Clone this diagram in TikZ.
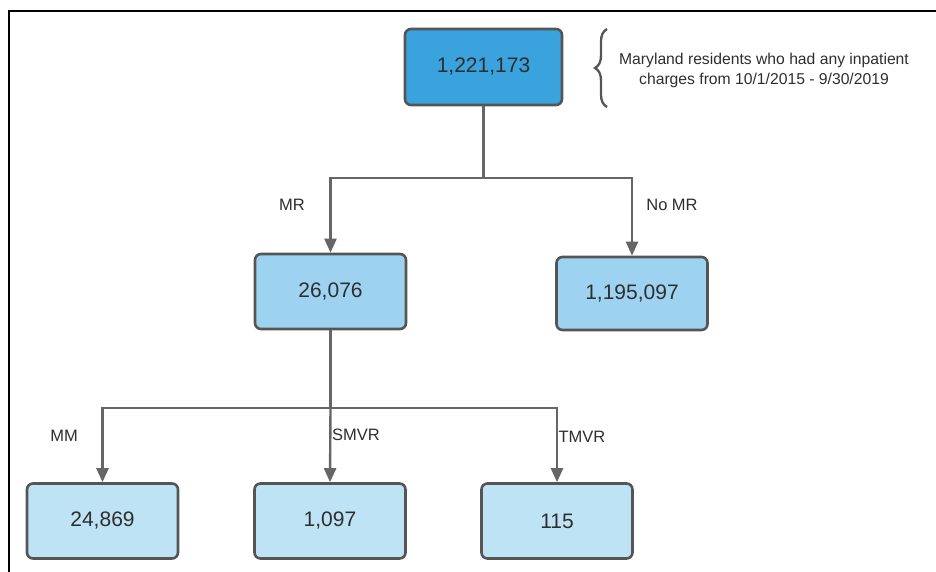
\documentclass[tikz,border=0pt]{standalone}
\usepackage{fontspec}
\setmainfont{Liberation Sans}
\usetikzlibrary{arrows.meta,decorations.pathreplacing}
\definecolor{topblue}{HTML}{3AA3DD}
\definecolor{midblue}{HTML}{9DD3F1}
\definecolor{lowblue}{HTML}{BEE3F5}
\definecolor{edgegray}{HTML}{555555}
\definecolor{linegray}{HTML}{666666}
\definecolor{textgray}{HTML}{2E2E2E}
\tikzset{
  countbox/.style={draw=edgegray,line width=2.6bp,rounded corners=6bp,
    minimum width=151bp,minimum height=75bp,inner sep=0pt,text=textgray,
    font=\fontsize{21bp}{25bp}\selectfont},
  branchlabel/.style={text=textgray,font=\fontsize{16.5bp}{19bp}\selectfont},
  flow/.style={draw=linegray,line width=2.4bp},
  flowarrow/.style={flow,-{Triangle[length=14bp,width=12bp]}},
}
\begin{document}
\begin{tikzpicture}[>=latex,line join=miter]
\useasboundingbox (0bp,0bp) rectangle (936bp,572bp);
%%
\draw [black,line width=2bp] (9bp,0bp) -- (9bp,561bp) -- (936bp,561bp);
%
\node (node_all) at (483.5bp,505bp) [countbox,fill=topblue,minimum width=157bp,minimum height=76bp] {1,221,173};
  \node (node_mr) at (330.5bp,280.5bp) [countbox,fill=midblue] {26,076};
  \node (node_nomr) at (632bp,278.5bp) [countbox,fill=midblue,minimum height=73bp] {1,195,097};
  \node (node_mm) at (102.5bp,51bp) [countbox,fill=lowblue] {24,869};
  \node (node_smvr) at (330bp,51bp) [countbox,fill=lowblue] {1,097};
  \node (node_tmvr) at (557bp,51bp) [countbox,fill=lowblue] {115};
%
\node (note) at (764bp,502bp) [align=center,text=textgray,font=\fontsize{15.7bp}{20bp}\selectfont] {Maryland residents who had any inpatient\\charges from 10/1/2015 - 9/30/2019};
  \draw [edgegray,line width=2.3bp,decorate,decoration={brace,amplitude=12bp,aspect=0.5}] (607bp,465bp) -- (607bp,543bp);
%
\node (lab_mr) at (292bp,367bp) [branchlabel] {MR};
  \node (lab_nomr) at (672bp,367bp) [branchlabel] {No MR};
  \node (lab_mm) at (64bp,136bp) [branchlabel] {MM};
  \node (lab_smvr) at (356bp,137bp) [branchlabel] {SMVR};
  \node (lab_tmvr) at (582bp,135bp) [branchlabel] {TMVR};
%
\coordinate (split_1) at (node_all.south |- 0,394bp);
  \coordinate (split_2) at (node_mr.south |- 0,164bp);
  \draw [flow] (node_all.south) -- (split_1);
  \draw [flowarrow] (split_1) -| (node_mr.north);
  \draw [flowarrow] (split_1) -| (node_nomr.north);
  \draw [flow] (node_mr.south) -- (split_2);
  \draw [flowarrow] (split_2) -| (node_mm.north);
  \draw [flowarrow] (split_2) -- (node_smvr.north);
  \draw [flowarrow] (split_2) -| (node_tmvr.north);
%
\end{tikzpicture}
\end{document}
